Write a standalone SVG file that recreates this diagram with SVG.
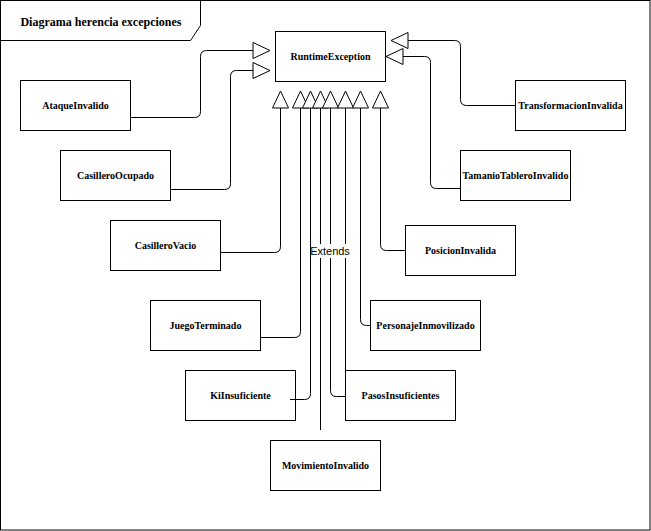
<svg xmlns="http://www.w3.org/2000/svg" width="651" height="531" viewBox="0 0 651 531">
<style>
.box{fill:#fff;stroke:#000;stroke-width:1}
.lbl{font-family:"Liberation Serif","Times New Roman",serif;font-weight:bold;font-size:10px;fill:#000;text-anchor:middle}
.edge{fill:none;stroke:#000;stroke-width:1}
.tri{fill:#fff;stroke:#000;stroke-width:1}
</style>
<rect width="651" height="531" fill="#fff"/>
<g id="frame">
<rect x="0.5" y="0.5" width="649.5" height="529.5" fill="none" stroke="#000"/>
<path d="M0.5,40.5 H190.5 L200.5,25.5 V0.5" fill="none" stroke="#000"/>
<text x="101" y="26" style="font-family:'Liberation Serif','Times New Roman',serif;font-weight:bold;font-size:12px;text-anchor:middle">Diagrama herencia excepciones</text>
</g>
<g id="RuntimeException"><rect class="box" x="275.5" y="31.5" width="110" height="50"/><text class="lbl" x="330.5" y="60">RuntimeException</text></g>
<g id="AtaqueInvalido"><rect class="box" x="20.5" y="80.5" width="110" height="50"/><text class="lbl" x="75.5" y="109">AtaqueInvalido</text></g>
<g id="CasilleroOcupado"><rect class="box" x="60.5" y="150.5" width="110" height="50"/><text class="lbl" x="115.5" y="179">CasilleroOcupado</text></g>
<g id="CasilleroVacio"><rect class="box" x="110.5" y="220.5" width="110" height="50"/><text class="lbl" x="165.5" y="249">CasilleroVacio</text></g>
<g id="JuegoTerminado"><rect class="box" x="150.5" y="300.5" width="110" height="50"/><text class="lbl" x="205.5" y="329">JuegoTerminado</text></g>
<g id="KiInsuficiente"><rect class="box" x="185.5" y="370.5" width="110" height="50"/><text class="lbl" x="240.5" y="399">KiInsuficiente</text></g>
<g id="MovimientoInvalido"><rect class="box" x="270.5" y="440.5" width="110" height="50"/><text class="lbl" x="325.5" y="469">MovimientoInvalido</text></g>
<g id="PasosInsuficientes"><rect class="box" x="345.5" y="370.5" width="110" height="50"/><text class="lbl" x="400.5" y="399">PasosInsuficientes</text></g>
<g id="PersonajeInmovilizado"><rect class="box" x="370.5" y="300.5" width="110" height="50"/><text class="lbl" x="425.5" y="329">PersonajeInmovilizado</text></g>
<g id="PosicionInvalida"><rect class="box" x="405.5" y="225.5" width="110" height="50"/><text class="lbl" x="460.5" y="254">PosicionInvalida</text></g>
<g id="TamanioTableroInvalido"><rect class="box" x="460.5" y="150.5" width="110" height="50"/><text class="lbl" x="515.5" y="179">TamanioTableroInvalido</text></g>
<g id="TransformacionInvalida"><rect class="box" x="515.5" y="80.5" width="110" height="50"/><text class="lbl" x="570.5" y="109">TransformacionInvalida</text></g>
<g id="connectors">
<path class="edge" d="M131,117.5 H194.5 Q200.5,117.5 200.5,111.5 V56.5 Q200.5,50.5 206.5,50.5 H253"/>
<path class="edge" d="M171,189.5 H224.5 Q230.5,189.5 230.5,183.5 V76.5 Q230.5,70.5 236.5,70.5 H253"/>
<path class="edge" d="M221,252.5 H274.5 Q280.5,252.5 280.5,246.5 V108"/>
<path class="edge" d="M261,337.5 H294.5 Q300.5,337.5 300.5,331.5 V108"/>
<path class="edge" d="M290,399.5 H304.5 Q310.5,399.5 310.5,393.5 V108"/>
<path class="edge" d="M320.5,430 V108"/>
<path class="edge" d="M345,396.5 H336.5 Q330.5,396.5 330.5,390.5 V108"/>
<path class="edge" d="M345.5,370 V108"/>
<path class="edge" d="M370,325.5 H366.5 Q360.5,325.5 360.5,319.5 V108"/>
<path class="edge" d="M405,250.5 H386.5 Q380.5,250.5 380.5,244.5 V108"/>
<path class="edge" d="M460,188.5 H436.5 Q430.5,188.5 430.5,182.5 V62.5 Q430.5,56.5 424.5,56.5 H403"/>
<path class="edge" d="M515,105.5 H466.5 Q460.5,105.5 460.5,99.5 V46.5 Q460.5,40.5 454.5,40.5 H408"/>
<polygon class="tri" points="253,42.5 270,50.5 253,58.5"/>
<polygon class="tri" points="253,62.5 270,70.5 253,78.5"/>
<polygon class="tri" points="408,32.5 391,40.5 408,48.5"/>
<polygon class="tri" points="403,48.5 386,56.5 403,64.5"/>
<polygon class="tri" points="272.5,108 280.5,91 288.5,108"/>
<polygon class="tri" points="292.5,108 300.5,91 308.5,108"/>
<polygon class="tri" points="302.5,108 310.5,91 318.5,108"/>
<polygon class="tri" points="312.5,108 320.5,91 328.5,108"/>
<polygon class="tri" points="322.5,108 330.5,91 338.5,108"/>
<polygon class="tri" points="337.5,108 345.5,91 353.5,108"/>
<polygon class="tri" points="352.5,108 360.5,91 368.5,108"/>
<polygon class="tri" points="372.5,108 380.5,91 388.5,108"/>
<rect x="311" y="244" width="38" height="14" fill="#fff"/>
<text x="330" y="255" style="font-family:'Liberation Sans',Arial,sans-serif;font-size:11px;text-anchor:middle">Extends</text>
</g>
</svg>
